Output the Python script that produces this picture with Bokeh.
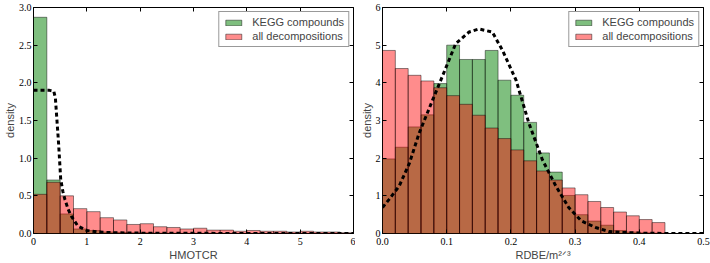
import numpy as np
from bokeh.plotting import figure
from bokeh.layouts import row
from bokeh.models import Range1d, LinearAxis, Legend, LegendItem, FixedTicker, ColumnDataSource
from bokeh.embed import file_html
from bokeh.resources import INLINE

# ---------------- data ----------------
# Left panel: HMOTCR histogram (bins of width 0.25 from 0 to 6)
hm_bin_start = 0.0
hm_bin_width = 0.25
hm_kegg = [2.87, 0.71, 0.26, 0.06, 0.04, 0.02, 0.015, 0.01, 0.01, 0.006, 0.005, 0.004,
           0.003, 0.003, 0.002, 0.002, 0.002, 0.001, 0.001, 0.001, 0.001, 0.001, 0.001, 0.001]
hm_all = [0.52, 0.68, 0.50, 0.33, 0.29, 0.21, 0.18, 0.12, 0.13, 0.09, 0.08, 0.06,
          0.07, 0.045, 0.045, 0.03, 0.04, 0.03, 0.03, 0.02, 0.03, 0.02, 0.02, 0.01]
hm_curve_x = [0, 0.1, 0.2, 0.3, 0.38, 0.41, 0.44, 0.47, 0.51, 0.55, 0.59, 0.65, 0.71,
              0.83, 1.0, 1.2, 1.5, 2.0, 3.0, 4.0, 5.0, 6.0]
hm_curve_y = [1.9, 1.9, 1.9, 1.9, 1.89, 1.8, 1.5, 1.2, 0.72, 0.56, 0.45, 0.32, 0.23,
              0.10, 0.04, 0.02, 0.01, 0.005, 0.002, 0.001, 0.0, 0.0]
hm_xticks = [0, 1, 2, 3, 4, 5, 6]
hm_yticks = [0.0, 0.5, 1.0, 1.5, 2.0, 2.5, 3.0]

# Right panel: RDBE/m^(2/3) histogram (bins of width 0.02 from 0 to 0.5)
rd_bin_start = 0.0
rd_bin_width = 0.02
rd_kegg = [1.98, 2.29, 2.83, 3.15, 3.98, 5.0, 4.62, 4.62, 4.86, 4.07, 3.67, 2.95, 2.14,
           1.63, 1.01, 0.50, 0.33, 0.22, 0.08, 0.04, 0.02, 0.01, 0.0, 0.0, 0.0]
rd_all = [4.86, 4.38, 4.20, 4.05, 3.87, 3.66, 3.43, 3.14, 2.80, 2.52, 2.22, 1.93, 1.66,
          1.42, 1.21, 1.03, 0.85, 0.69, 0.57, 0.47, 0.37, 0.29, 0.0, 0.0, 0.0]
rd_curve_x = [0, 0.01, 0.026, 0.042, 0.057, 0.078, 0.093, 0.114, 0.135, 0.15, 0.171,
              0.187, 0.208, 0.228, 0.249, 0.27, 0.29, 0.31, 0.332, 0.353, 0.374, 0.4,
              0.45, 0.5]
rd_curve_y = [0.69, 0.9, 1.26, 1.87, 2.66, 3.54, 4.16, 5.04, 5.35, 5.43, 5.35, 4.86,
              4.07, 2.93, 1.96, 1.26, 0.69, 0.33, 0.16, 0.05, 0.03, 0.01, 0.0, 0.0]
rd_xticks = [0.0, 0.1, 0.2, 0.3, 0.4, 0.5]
rd_yticks = [0, 1, 2, 3, 4, 5, 6]

series_names = ["KEGG compounds", "all decompositions"]
y_label = "density"
hm_xlabel = "HMOTCR"
rd_xlabel = "RDBE/m\u00b2\u141f\u00b3"

GREEN = "#008000"
RED = "#ff0000"
SANS = "Liberation Sans"
SERIF = "Liberation Serif"


def tick_fmt(ticks, decimals):
    return {t: (f"{t:.{decimals}f}") for t in ticks}


def make_panel(bin_start, bin_width, kegg, alld, cx, cy, xr, yr, xticks, yticks,
               xdec, ydec, xlabel, bl, br):
    p = figure(width=355, height=263, output_backend="svg", toolbar_location=None,
               x_range=Range1d(*xr), y_range=Range1d(*yr),
               min_border_left=bl, min_border_right=br, min_border_top=7,
               min_border_bottom=29)
    p.grid.visible = False
    p.outline_line_color = "black"
    p.outline_line_width = 1
    p.background_fill_color = "white"
    p.border_fill_color = "white"

    n = len(kegg)
    lefts = [bin_start + i * bin_width for i in range(n)]
    rights = [l + bin_width for l in lefts]
    src_k = ColumnDataSource(dict(left=lefts, right=rights, top=kegg))
    src_a = ColumnDataSource(dict(left=lefts, right=rights, top=alld))
    rk = p.quad(left="left", right="right", bottom=0, top="top", source=src_k,
                fill_color=GREEN, fill_alpha=0.5, line_color="black", line_alpha=0.45,
                line_width=1)
    ra = p.quad(left="left", right="right", bottom=0, top="top", source=src_a,
                fill_color=RED, fill_alpha=0.45, line_color="black", line_alpha=0.45,
                line_width=1)
    p.line(cx, cy, line_color="black", line_width=3, line_dash="4 3")

    for ax in (p.xaxis[0], p.yaxis[0]):
        ax.major_tick_in = 4
        ax.major_tick_out = 0
        ax.minor_tick_in = 0
        ax.minor_tick_out = 0
        ax.major_label_text_font = SERIF
        ax.major_label_text_font_size = "10px"
        ax.major_label_text_color = "black"
        ax.axis_label_text_font = SANS
        ax.axis_label_text_font_size = "11px"
        ax.axis_label_text_font_style = "normal"
        ax.axis_line_color = None
        ax.major_tick_line_color = "black"
    p.xaxis[0].ticker = FixedTicker(ticks=xticks)
    p.yaxis[0].ticker = FixedTicker(ticks=yticks)
    p.xaxis[0].major_label_overrides = tick_fmt(xticks, xdec)
    p.yaxis[0].major_label_overrides = tick_fmt(yticks, ydec)
    p.xaxis[0].major_label_standoff = 4
    p.yaxis[0].major_label_standoff = 2
    p.yaxis[0].axis_label = y_label
    p.yaxis[0].axis_label_standoff = 0
    p.xaxis[0].axis_label = xlabel
    p.xaxis[0].axis_label_standoff = 1

    # mirrored ticks (no labels)
    for loc in ("right", "above"):
        ax = LinearAxis(ticker=FixedTicker(ticks=(yticks if loc == "right" else xticks)))
        ax.major_tick_in = 4
        ax.major_tick_out = 0
        ax.minor_tick_in = 0
        ax.minor_tick_out = 0
        ax.major_label_text_color = None
        ax.major_label_text_font_size = "1px"
        ax.major_label_standoff = 0
        ax.axis_line_color = None
        ax.major_tick_line_color = "black"
        p.add_layout(ax, loc)

    legend = Legend(items=[LegendItem(label=series_names[0], renderers=[rk]),
                           LegendItem(label=series_names[1], renderers=[ra])],
                    location="top_right")
    legend.label_text_font = SANS
    legend.label_text_font_size = "11px"
    legend.label_height = 12
    legend.glyph_height = 7
    legend.glyph_width = 20
    legend.label_standoff = 9
    legend.spacing = 2
    legend.padding = 4
    legend.margin = 4
    legend.border_line_color = "#333333"
    legend.border_line_width = 1
    legend.background_fill_alpha = 1.0
    p.add_layout(legend, "center")
    return p


left = make_panel(hm_bin_start, hm_bin_width, hm_kegg, hm_all, hm_curve_x, hm_curve_y,
                  (0, 6), (0, 3), hm_xticks, hm_yticks, 0, 1, hm_xlabel, 32, 2)
right = make_panel(rd_bin_start, rd_bin_width, rd_kegg, rd_all, rd_curve_x, rd_curve_y,
                   (0, 0.5), (0, 6), rd_xticks, rd_yticks, 1, 0, rd_xlabel, 27, 7)

layout = row(left, right)
open("out.html", "w").write(file_html(layout, INLINE))
